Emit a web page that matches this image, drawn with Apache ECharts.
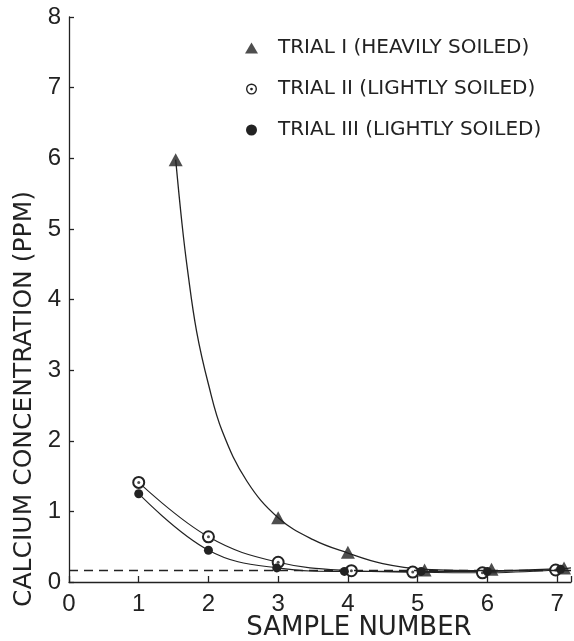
<!DOCTYPE html>
<html>
<head>
<meta charset="utf-8">
<script src="https://cdn.jsdelivr.net/npm/echarts@6/dist/echarts.min.js"></script>
<style>
  html, body { margin: 0; padding: 0; background: #fff; }
  #main { width: 574px; height: 641px; }
</style>
</head>
<body>
<div id="main"></div>
<script>
// values
var sampleTicks = [0, 1, 2, 3, 4, 5, 6, 7];
var ppmTicks = [0, 1, 2, 3, 4, 5, 6, 7, 8];

var trial1X = [1.53, 3.0, 4.0, 5.1, 6.06, 7.1];
var trial1Y = [5.98, 0.91, 0.42, 0.17, 0.18, 0.2];
// hand drawn curve for trial I
var curve1X = [1.53, 1.62, 1.70, 1.83, 2.0, 2.2, 2.55, 3.0, 3.5, 4.0, 4.5, 5.1, 6.06, 7.1, 7.2];
var curve1Y = [5.98, 5.08, 4.42, 3.55, 2.8, 2.13, 1.43, 0.91, 0.6, 0.41, 0.26, 0.18, 0.16, 0.19, 0.2];

var trial2X = [1, 2, 3, 4.05, 4.93, 5.93, 6.98];
var trial2Y = [1.41, 0.64, 0.28, 0.16, 0.14, 0.13, 0.17];

var trial3X = [1, 2, 2.98, 3.95, 5.05, 6.0, 7.05];
var trial3Y = [1.25, 0.45, 0.2, 0.15, 0.15, 0.15, 0.18];

var baseline = 0.16;

var names = ['TRIAL I (HEAVILY SOILED)', 'TRIAL II (LIGHTLY SOILED)', 'TRIAL III (LIGHTLY SOILED)'];

function pairs(xs, ys) {
    return xs.map(function (x, i) { return [x, ys[i]]; });
}

var ink = '#222';
var ringDot = 'path://M0,-10 A10,10 0 1 1 0,10 A10,10 0 1 1 0,-10 Z ' +
    'M0,-7.5 A7.5,7.5 0 1 0 0,7.5 A7.5,7.5 0 1 0 0,-7.5 Z ' +
    'M0,-2.5 A2.5,2.5 0 1 1 0,2.5 A2.5,2.5 0 1 1 0,-2.5 Z';

var myChart = echarts.init(document.getElementById('main'));

myChart.setOption({
    backgroundColor: '#fff',
    animation: false,
    grid: { left: 69, right: 1, top: 17, bottom: 59 },
    legend: {
        orient: 'vertical',
        left: 240,
        top: 33,
        itemGap: 21,
        itemWidth: 13,
        itemHeight: 11,
        textStyle: {
            fontFamily: 'DejaVu Sans',
            fontSize: 20,
            color: ink,
            padding: [0, 0, 0, 15]
        },
        data: [
            { name: names[0], icon: 'triangle' },
            { name: names[1], icon: ringDot },
            { name: names[2], icon: 'circle' }
        ]
    },
    xAxis: {
        type: 'value',
        min: 0,
        max: 7.2,
        interval: 1,
        axisLine: { lineStyle: { color: ink, width: 1.3 } },
        axisTick: { inside: true, length: 6, lineStyle: { color: ink, width: 1.3 } },
        splitLine: { show: false },
        axisLabel: {
            margin: 10,
            fontFamily: 'Liberation Sans',
            fontSize: 24,
            color: ink,
            formatter: function (v) { return sampleTicks.indexOf(v) >= 0 ? String(v) : ''; }
        }
    },
    yAxis: {
        type: 'value',
        min: 0,
        max: 8,
        interval: 1,
        axisLine: { show: true, lineStyle: { color: ink, width: 1.3 } },
        axisTick: { show: true, inside: true, length: 5, lineStyle: { color: ink, width: 1.3 } },
        splitLine: { show: false },
        axisLabel: {
            margin: 8,
            fontFamily: 'Liberation Sans',
            fontSize: 24,
            color: ink,
            formatter: function (v) { return ppmTicks.indexOf(v) >= 0 ? String(v) : ''; }
        }
    },
    graphic: [
        {
            type: 'text',
            x: 24,
            y: 399,
            rotation: Math.PI / 2,
            style: {
                text: 'CALCIUM CONCENTRATION (PPM)',
                font: '25px "DejaVu Sans"',
                fill: ink,
                align: 'center',
                verticalAlign: 'middle'
            }
        },
        {
            type: 'text',
            x: 359,
            y: 628,
            style: {
                text: 'SAMPLE NUMBER',
                font: '26px "DejaVu Sans"',
                fill: ink,
                align: 'center',
                verticalAlign: 'middle'
            }
        }
    ],
    series: [
        {
            name: 'curve1',
            type: 'line',
            data: pairs(curve1X, curve1Y),
            smooth: 0.4,
            showSymbol: false,
            symbol: 'none',
            lineStyle: { color: ink, width: 1.3 },
            z: 2
        },
        {
            name: names[1],
            type: 'line',
            data: pairs(trial2X, trial2Y),
            smooth: 0.4,
            symbol: 'emptyCircle',
            symbolSize: 11,
            itemStyle: { color: ink, borderWidth: 1.4 },
            lineStyle: { color: ink, width: 1.1 },
            markLine: {
                silent: true,
                symbol: 'none',
                label: { show: false },
                lineStyle: { color: ink, width: 1.3, type: [9, 6] },
                data: [{ yAxis: baseline }]
            },
            z: 3
        },
        {
            name: 'dot2',
            type: 'scatter',
            data: pairs(trial2X, trial2Y),
            symbol: 'circle',
            symbolSize: 3,
            itemStyle: { color: ink },
            silent: true,
            z: 5
        },
        {
            name: names[2],
            type: 'line',
            data: pairs(trial3X, trial3Y),
            smooth: 0.4,
            symbol: 'circle',
            symbolSize: 9,
            itemStyle: { color: ink },
            lineStyle: { color: ink, width: 1.1 },
            z: 3
        },
        {
            name: names[0],
            type: 'scatter',
            data: pairs(trial1X, trial1Y),
            symbol: 'triangle',
            symbolSize: [14, 13],
            itemStyle: { color: ink },
            z: 6
        }
    ]
});
</script>
</body>
</html>
